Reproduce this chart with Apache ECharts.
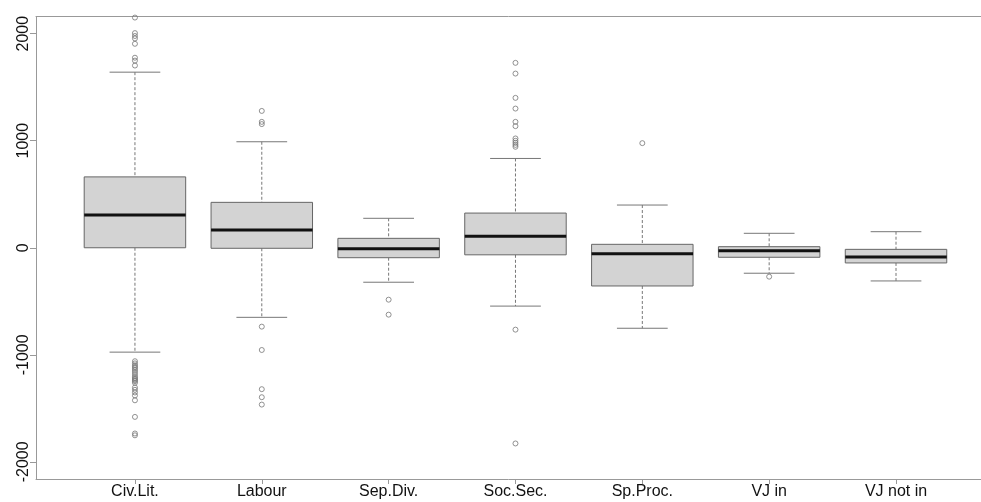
<!DOCTYPE html>
<html>
<head>
<meta charset="utf-8">
<script src="https://cdn.jsdelivr.net/npm/echarts@6/dist/echarts.min.js"></script>
<style>
html,body{margin:0;padding:0;background:#fff;}
#chart{width:981px;height:502px;}
</style>
</head>
<body>
<div id="chart"></div>
<script>
// ---- data ----
const categories = ['Civ.Lit.', 'Labour', 'Sep.Div.', 'Soc.Sec.', 'Sp.Proc.', 'VJ in', 'VJ not in'];
const whiskerLow  = [-975, -650, -322, -545, -752, -238, -310];
const q1          = [0,    -5,   -93,  -66,  -357, -89,  -142];
const median      = [305,  166,  -9,   107,  -55,  -28,  -86];
const q3          = [662,  424,  88,   324,  32,   10,   -15];
const whiskerHigh = [1640, 990,  275,  834,  399,  135,  150];

const outliersCivLit = [2150, 2005, 1978, 1955, 1905, 1775, 1748, 1702,
  -1060, -1080, -1098, -1112, -1125, -1142, -1160, -1180, -1200, -1215, -1226, -1236, -1246,
  -1262, -1305, -1327, -1352, -1380, -1425, -1580, -1735, -1752];
const outliersLabour = [1278, 1176, 1155, -737, -955, -1321, -1396, -1465];
const outliersSepDiv = [-485, -625];
const outliersSocSec = [1727, 1627, 1400, 1300, 1176, 1136, 1021, 999, 980, 961, 943, -765, -1828];
const outliersSpProc = [977];
const outliersVJin = [-270];
const outliersVJnotin = [];

const yTicks = [-2000, -1000, 0, 1000, 2000];
const xTicks = [1, 2, 3, 4, 5, 6, 7];

// ---- build series data ----
const boxData = categories.map((c, i) => [i + 1, whiskerLow[i], q1[i], median[i], q3[i], whiskerHigh[i]]);
const outlierLists = [outliersCivLit, outliersLabour, outliersSepDiv, outliersSocSec, outliersSpProc, outliersVJin, outliersVJnotin];
const outlierData = [];
outlierLists.forEach((list, i) => list.forEach(v => outlierData.push([i + 1, v])));

const FONT = 'Liberation Sans, Arial, sans-serif';
const FRAME = '#999';
const chart = echarts.init(document.getElementById('chart'), null, {renderer: 'canvas'});
chart.setOption({
  animation: false,
  backgroundColor: '#fff',
  grid: {left: 36, right: 0, top: 16.5, bottom: 23, show: false},
  xAxis: [{
    type: 'value', min: 0.22, max: 7.67,
    axisLine: {show: true, onZero: false, lineStyle: {color: FRAME, width: 1}},
    splitLine: {show: false},
    axisTick: {show: true, customValues: xTicks, length: 5, lineStyle: {color: FRAME}},
    axisLabel: {
      customValues: xTicks, margin: 5,
      color: '#111', fontSize: 16, fontFamily: FONT,
      formatter: v => categories[Math.round(v) - 1] || ''
    }
  }, {
    type: 'value', position: 'top', min: 0.22, max: 7.67,
    axisLine: {show: true, onZero: false, lineStyle: {color: FRAME, width: 1}},
    splitLine: {show: false}, axisTick: {show: false}, axisLabel: {show: false}
  }],
  yAxis: {
    type: 'value', min: -2160, max: 2160,
    axisLine: {show: true, onZero: false, lineStyle: {color: FRAME, width: 1}},
    splitLine: {show: false},
    axisTick: {show: true, customValues: yTicks, length: 6, lineStyle: {color: FRAME}},
    axisLabel: {
      customValues: yTicks, rotate: 90, margin: 4,
      color: '#111', fontSize: 16, fontFamily: FONT,
      formatter: v => String(v)
    }
  },
  series: [
    {
      type: 'custom',
      data: boxData,
      encode: {x: 0, y: [1, 2, 3, 4, 5]},
      renderItem: function (params, api) {
        const x = api.value(0);
        const lo = api.coord([x, api.value(1)]);
        const b1 = api.coord([x, api.value(2)]);
        const md = api.coord([x, api.value(3)]);
        const b3 = api.coord([x, api.value(4)]);
        const hi = api.coord([x, api.value(5)]);
        const halfBox = api.size([0.4, 0])[0];
        const halfCap = api.size([0.2, 0])[0];
        const cx = lo[0];
        const dash = {stroke: '#777', lineWidth: 1, lineDash: [3, 2]};
        const solid = {stroke: '#777', lineWidth: 1};
        return {
          type: 'group',
          children: [
            {type: 'line', shape: {x1: cx, y1: hi[1], x2: cx, y2: b3[1]}, style: dash},
            {type: 'line', shape: {x1: cx, y1: b1[1], x2: cx, y2: lo[1]}, style: dash},
            {type: 'line', shape: {x1: cx - halfCap, y1: hi[1], x2: cx + halfCap, y2: hi[1]}, style: solid},
            {type: 'line', shape: {x1: cx - halfCap, y1: lo[1], x2: cx + halfCap, y2: lo[1]}, style: solid},
            {type: 'rect', shape: {x: cx - halfBox, y: b3[1], width: 2 * halfBox, height: b1[1] - b3[1]},
              style: {fill: '#d3d3d3', stroke: '#666', lineWidth: 1}},
            {type: 'line', shape: {x1: cx - halfBox, y1: md[1], x2: cx + halfBox, y2: md[1]},
              style: {stroke: '#111', lineWidth: 3}}
          ]
        };
      }
    },
    {
      type: 'scatter',
      data: outlierData,
      symbol: 'circle',
      symbolSize: 5,
      itemStyle: {color: 'rgba(255,255,255,0)', borderColor: '#777', borderWidth: 1},
      z: 3
    }
  ]
});
</script>
</body>
</html>
